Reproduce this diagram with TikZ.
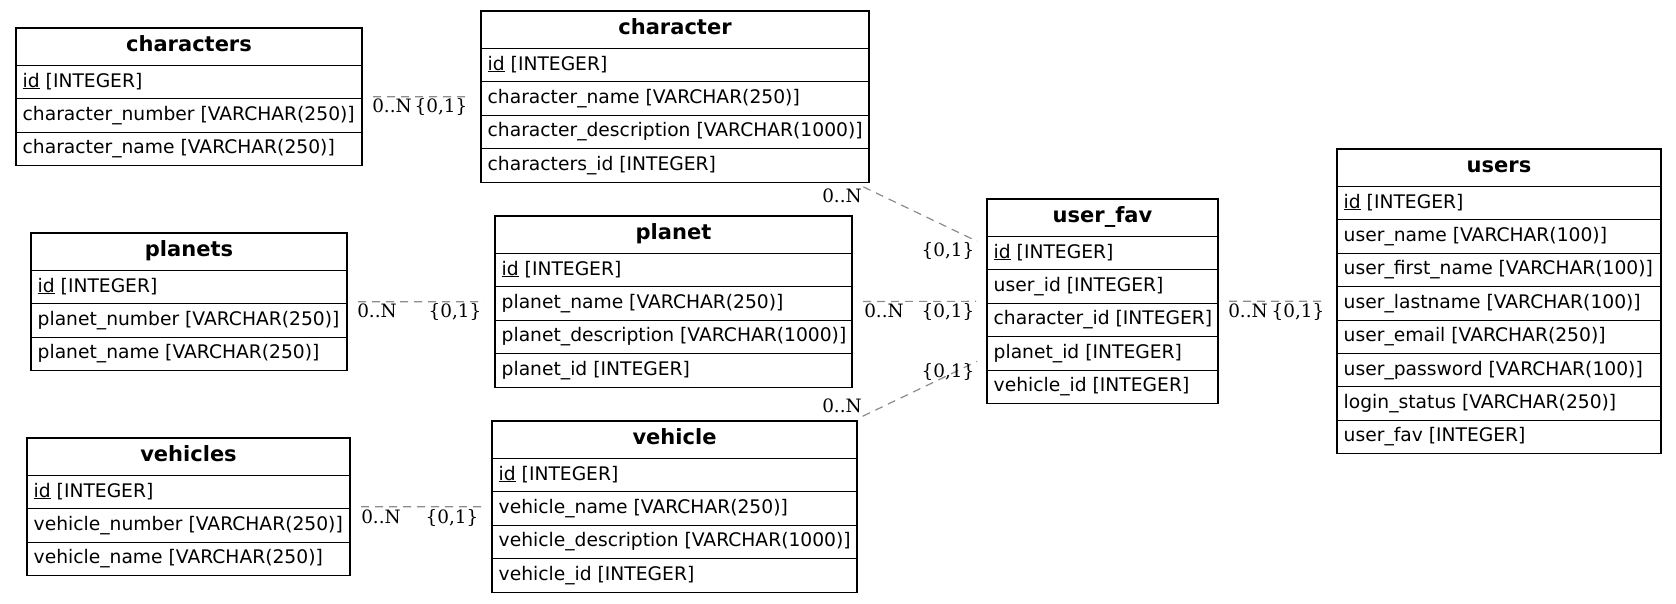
\documentclass[tikz,border=0pt]{standalone}
\usepackage{fontspec}
\newfontfamily\tsans{DejaVu Sans}
\newfontfamily\tserif{DejaVu Serif}
\usetikzlibrary{calc}
\definecolor{relgray}{RGB}{140,140,140}
\tikzset{
  tbl/.style={draw=black, line width=1.15pt, inner sep=0pt, outer sep=0pt, fill=white, rectangle},
  sepline/.style={draw=black, line width=1.15pt},
  rowtxt/.style={anchor=base west, inner sep=0pt, font=\tsans\fontsize{18.7}{22}\selectfont},
  ttltxt/.style={anchor=base, inner sep=0pt, font=\tsans\bfseries\fontsize{21}{25}\selectfont},
  rel/.style={draw=relgray, line width=1.2pt, dash pattern=on 8pt off 6pt, shorten <=11pt, shorten >=11pt},
  card/.style={anchor=base, inner sep=0pt, font=\tserif\fontsize{18.4}{22}\selectfont},
}
% name, left, top, width, total rows, title, other rows
\newcommand\ertbl[7]{%
  \pgfmathsetmacro\erh{37.5+33.4*#5}%
  \node[tbl, anchor=north west, minimum width=#4pt, minimum height=\erh pt] (#1) at (#2,#3) {};
  \node[ttltxt] (#1-title) at ($(#2,#3)+(#4/2,23)$) {#6};
  \draw[sepline] ($(#2,#3)+(0,37.5)$) -- ++(#4,0);
  \node[rowtxt] (#1-id) at ($(#2,#3)+(6.5,37.5+21.5)$) {\underline{id} [INTEGER]};
  \foreach \rowtext [count=\rowno] in {#7} {
    \draw[sepline] ($(#2,#3)+(0,37.5+33.4*\rowno)$) -- ++(#4,0);
    \node[rowtxt] (#1-r\rowno) at ($(#2,#3)+(6.5,37.5+33.4*\rowno+21.5)$) {\rowtext};
  }%
}
\begin{document}
\begin{tikzpicture}[x=1pt,y=-1pt]
\fill[white] (0,0) rectangle (1676,603);
\useasboundingbox (0,0) rectangle (1676,603);

\ertbl{characters}{16}{28}{346}{3}{characters}{character\_number [VARCHAR(250)], character\_name [VARCHAR(250)]}
\ertbl{character}{481}{11}{388}{4}{character}{character\_name [VARCHAR(250)], character\_description [VARCHAR(1000)], characters\_id [INTEGER]}
\ertbl{planets}{31}{233}{316}{3}{planets}{planet\_number [VARCHAR(250)], planet\_name [VARCHAR(250)]}
\ertbl{planet}{495}{216}{357}{4}{planet}{planet\_name [VARCHAR(250)], planet\_description [VARCHAR(1000)], planet\_id [INTEGER]}
\ertbl{vehicles}{27}{438}{323}{3}{vehicles}{vehicle\_number [VARCHAR(250)], vehicle\_name [VARCHAR(250)]}
\ertbl{vehicle}{492}{421}{365}{4}{vehicle}{vehicle\_name [VARCHAR(250)], vehicle\_description [VARCHAR(1000)], vehicle\_id [INTEGER]}
\ertbl{userfav}{987}{199}{231}{5}{user\_fav}{user\_id [INTEGER], character\_id [INTEGER], planet\_id [INTEGER], vehicle\_id [INTEGER]}
\ertbl{users}{1337}{149}{324}{8}{users}{user\_name [VARCHAR(100)], user\_first\_name [VARCHAR(100)], user\_lastname [VARCHAR(100)], user\_email [VARCHAR(250)], user\_password [VARCHAR(100)], login\_status [VARCHAR(250)], user\_fav [INTEGER]}

\draw[rel] (characters) -- (character);
\draw[rel] (planets) -- (planet);
\draw[rel] (vehicles) -- (vehicle);
\draw[rel] (character) -- (userfav);
\draw[rel] (planet) -- (userfav);
\draw[rel] (vehicle) -- (userfav);
\draw[rel] (userfav) -- (users);

\node[card] (c1a) at (392,112) {0..N};
\node[card] (c1b) at (441,112) {\{0,1\}};
\node[card] (c2a) at (842,202) {0..N};
\node[card] (c2b) at (948,256) {\{0,1\}};
\node[card] (c3a) at (884,317) {0..N};
\node[card] (c3b) at (948,317) {\{0,1\}};
\node[card] (c4b) at (948,377) {\{0,1\}};
\node[card] (c4a) at (842,412) {0..N};
\node[card] (c5a) at (377,317) {0..N};
\node[card] (c5b) at (455,317) {\{0,1\}};
\node[card] (c6a) at (381,523) {0..N};
\node[card] (c6b) at (452,523) {\{0,1\}};
\node[card] (c7a) at (1248,317) {0..N};
\node[card] (c7b) at (1298,317) {\{0,1\}};
\end{tikzpicture}
\end{document}
